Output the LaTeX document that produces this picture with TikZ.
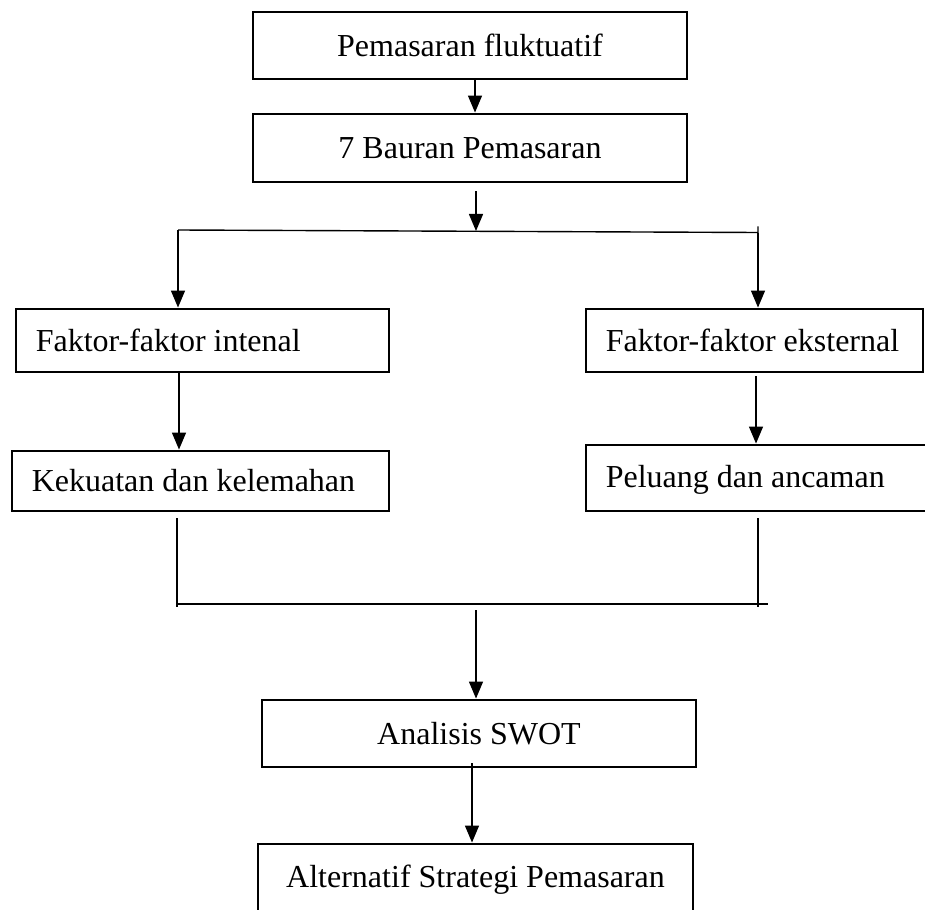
\documentclass[tikz,border=0pt]{standalone}
\usepackage{fontspec}
\setmainfont{Liberation Serif}
\usetikzlibrary{arrows.meta,calc}
\begin{document}
\begin{tikzpicture}[x=1pt,y=-1pt,
  box/.style={draw,line width=2.9pt,inner sep=0pt,font=\fontsize{32}{38}\selectfont},
  txt/.style={inner sep=0pt,anchor=west,font=\fontsize{32}{38}\selectfont},
  conn/.style={line width=1.4pt},
  arr/.style={conn,-{Triangle[length=17pt,width=14pt]}}]
\useasboundingbox (0,0) rectangle (925,909);
\clip (0,0) rectangle (925,909);
% boxes
\node[box,minimum width=434pt,minimum height=67pt] (b1) at (470,45.5) {Pemasaran fluktuatif};
\node[box,minimum width=434pt,minimum height=68pt] (b2) at (470,148) {7 Bauran Pemasaran};
\node[box,minimum width=373pt,minimum height=63pt] (b3) at (202.5,340.5) {};
\node[txt] (t3) at ([xshift=21pt]b3.west) {Faktor-faktor intenal};
\node[box,minimum width=337pt,minimum height=63pt] (b4) at (754.5,340.5) {};
\node[txt] (t4) at ([xshift=21pt]b4.west) {Faktor-faktor eksternal};
\node[box,minimum width=377pt,minimum height=60pt] (b5) at (200.5,481) {};
\node[txt] (t5) at ([xshift=21pt]b5.west) {Kekuatan dan kelemahan};
\node[box,minimum width=354pt,minimum height=66pt] (b6) at (763,478) {};
\node[txt] (t6) at ([xshift=21pt,yshift=-2pt]b6.west) {Peluang dan ancaman};
\node[box,minimum width=434pt,minimum height=67pt] (b7) at (479,733.5) {Analisis SWOT};
\node[box,minimum width=435pt,minimum height=71pt] (b8) at (475.5,879.5) {Alternatif Strategi Pemasaran};
% coordinates
\coordinate (sL) at (178,230);
\coordinate (sR) at (758,232.5);
\coordinate (sC) at (476,231);
\coordinate (xL) at (179,0);
\coordinate (xR) at (756,0);
\coordinate (mL) at (177,604);
\coordinate (mR) at (758,604);
\coordinate (mLb) at (177,607);
\coordinate (mRb) at (758,607);
\coordinate (mE) at (768,604);
\coordinate (mC) at (476,610);
% connectors
\draw[arr] ([xshift=5pt]b1.south) -- ([xshift=5pt]b2.north);
\draw[arr] ([xshift=6pt,yshift=-8pt]b2.south) -- (sC);
\draw[conn] (sL) -- (sR) -- ++(0,-6);
\draw[arr] (sL) -- (sL |- b3.north);
\draw[arr] (sR) -- (sR |- b4.north);
\draw[arr] (xL |- b3.south) -- (xL |- b5.north);
\draw[arr] ($(xR |- b4.south)+(0,3)$) -- (xR |- b6.north);
\draw[conn] ($(mL |- b5.south)+(0,6)$) -- (mLb);
\draw[conn] ($(mR |- b6.south)+(0,6)$) -- (mRb);
\draw[conn] (mL) -- (mE);
\draw[arr] (mC) -- (mC |- b7.north);
\draw[arr] ([xshift=-7pt,yshift=5pt]b7.south) -- ([xshift=-3.5pt]b8.north);
\end{tikzpicture}
\end{document}
